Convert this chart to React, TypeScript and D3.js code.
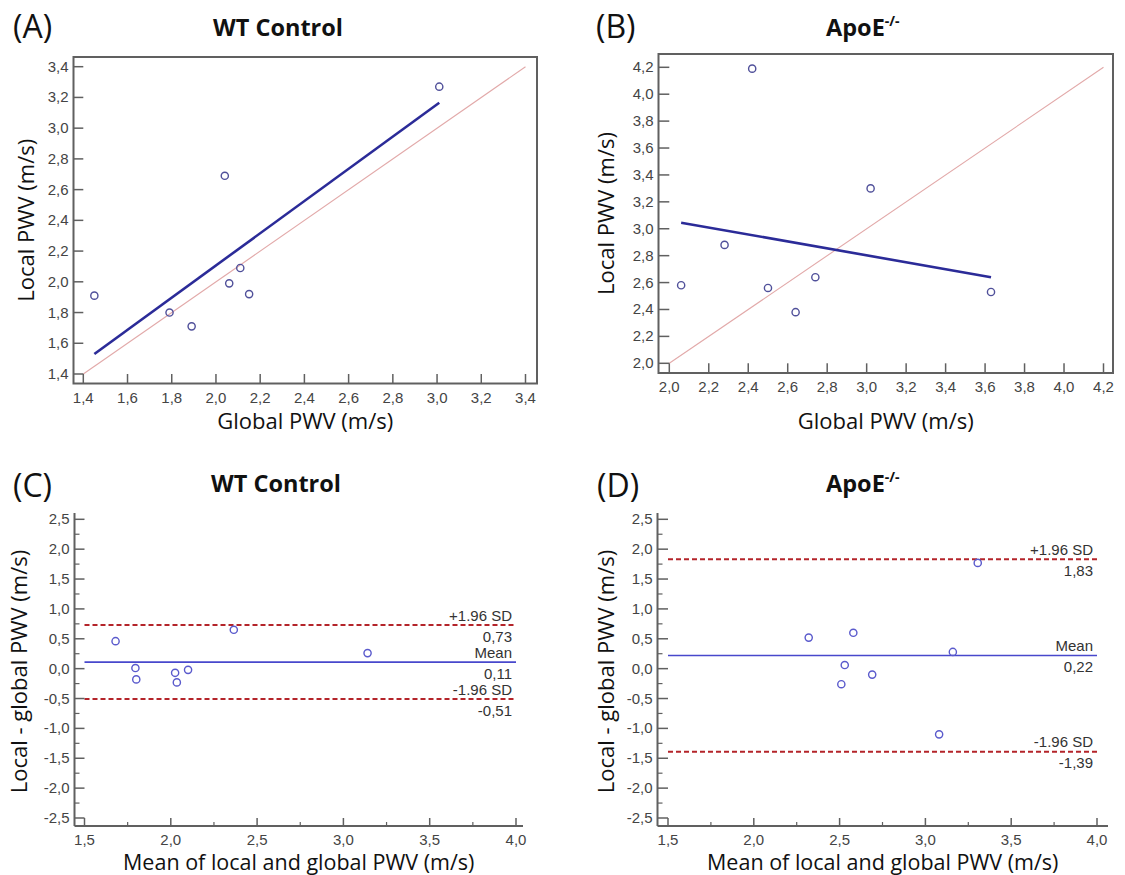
import React from "react";
import * as d3 from "d3";

// ---------- data ----------
const wtGlobal = [1.45, 1.79, 1.89, 2.04, 2.06, 2.11, 2.15, 3.01];
const wtLocal = [1.91, 1.8, 1.71, 2.69, 1.99, 2.09, 1.92, 3.27];
const apoGlobal = [2.06, 2.28, 2.42, 2.5, 2.64, 2.74, 3.02, 3.63];
const apoLocal = [2.58, 2.88, 4.19, 2.56, 2.38, 2.64, 3.3, 2.53];

const wtFitX = [1.45, 3.01];
const wtFitY = [1.53, 3.165];
const apoFitX = [2.06, 3.63];
const apoFitY = [3.045, 2.64];

const wtTicks = [1.4, 1.6, 1.8, 2.0, 2.2, 2.4, 2.6, 2.8, 3.0, 3.2, 3.4];
const apoTicks = [2.0, 2.2, 2.4, 2.6, 2.8, 3.0, 3.2, 3.4, 3.6, 3.8, 4.0, 4.2];
const baXTicks = [1.5, 2.0, 2.5, 3.0, 3.5, 4.0];
const baYTicks = [-2.5, -2.0, -1.5, -1.0, -0.5, 0.0, 0.5, 1.0, 1.5, 2.0, 2.5];

// agreement: [upper, mean, lower]
const wtAgreement = [0.73, 0.11, -0.51];
const apoAgreement = [1.83, 0.22, -1.39];
const agreementNames = ["+1.96 SD", "Mean", "-1.96 SD"];

const fmt = (v: number, d = 1) => d3.format(`.${d}f`)(v).replace(".", ",").replace("−", "-");

const TICK_FONT = "'Liberation Sans', Arial, sans-serif";
const TITLE_FONT = "'Open Sans', sans-serif";
const AXIS_COLOR = "#606060";
const TICK_TEXT = "#444";
const TICK_SIZE = 15;

type Frame = { l: number; t: number; r: number; b: number };

function PanelLetter({ x, y, text }: { x: number; y: number; text: string }) {
  return (
    <text x={x} y={y} fontFamily={TITLE_FONT} fontSize={32} fill="#111">
      {text}
    </text>
  );
}

function ScatterPanel(props: {
  letter: string;
  letterX: number;
  title: React.ReactNode;
  titleX: number;
  titleAnchor: string;
  global: number[];
  local: number[];
  fitX: number[];
  fitY: number[];
  ticks: number[];
  frame: Frame;
  xRange: [number, number];
  yRange: [number, number];
  yTitleX: number;
}) {
  const { frame, ticks } = props;
  const dom: [number, number] = [ticks[0], ticks[ticks.length - 1]];
  const xs = d3.scaleLinear().domain(dom).range(props.xRange);
  const ys = d3.scaleLinear().domain(dom).range(props.yRange);
  const tickLenX = frame.b - ys(dom[0]);
  const tickLenY = xs(dom[0]) - frame.l;
  const fitLine = d3.line<number>()
    .x((_, i) => xs(props.fitX[i]))
    .y((_, i) => ys(props.fitY[i]));
  const cx = (frame.l + frame.r) / 2;
  const cy = (frame.t + frame.b) / 2;
  return (
    <g>
      <PanelLetter x={props.letterX} y={38} text={props.letter} />
      <text x={props.titleX} y={36} fontFamily={TITLE_FONT} fontWeight={700} fontSize={23.5} fill="#111" textAnchor={props.titleAnchor}>
        {props.title}
      </text>
      <line x1={xs(dom[0])} y1={ys(dom[0])} x2={xs(dom[1])} y2={ys(dom[1])} stroke="#e2a9a9" strokeWidth={1.1} />
      <path d={fitLine(props.fitX) || ""} stroke="#2b2b98" strokeWidth={2.6} fill="none" />
      {props.global.map((g, i) => (
        <circle key={i} cx={xs(g)} cy={ys(props.local[i])} r={3.6} fill="none" stroke="#50509a" strokeWidth={1.4} />
      ))}
      <rect x={frame.l} y={frame.t} width={frame.r - frame.l} height={frame.b - frame.t} fill="none" stroke={AXIS_COLOR} strokeWidth={2} />
      {ticks.map((t) => (
        <g key={"x" + t}>
          <line x1={xs(t)} x2={xs(t)} y1={frame.b} y2={frame.b - tickLenX} stroke={AXIS_COLOR} strokeWidth={1.5} />
          <text x={xs(t)} y={frame.b + 19} textAnchor="middle" fontFamily={TICK_FONT} fontSize={TICK_SIZE} fill={TICK_TEXT}>
            {fmt(t)}
          </text>
          <line x1={frame.l} x2={frame.l + tickLenY} y1={ys(t)} y2={ys(t)} stroke={AXIS_COLOR} strokeWidth={1.5} />
          <text x={frame.l - 5} y={ys(t) + 5} textAnchor="end" fontFamily={TICK_FONT} fontSize={TICK_SIZE} fill={TICK_TEXT}>
            {fmt(t)}
          </text>
        </g>
      ))}
      <text x={cx} y={429} textAnchor="middle" fontFamily={TITLE_FONT} fontSize={22} fill="#111">
        Global PWV (m/s)
      </text>
      <text transform={`translate(${props.yTitleX},${cy}) rotate(-90)`} textAnchor="middle" fontFamily={TITLE_FONT} fontSize={22} fill="#111">
        Local PWV (m/s)
      </text>
    </g>
  );
}

function BlandAltmanPanel(props: {
  letter: string;
  letterX: number;
  title: React.ReactNode;
  titleX: number;
  global: number[];
  local: number[];
  agreement: number[];
  axisX: number;
  axisY: number;
  axisTop: number;
  axisRight: number;
  xRange: [number, number];
  yRange: [number, number];
  yTitleX: number;
}) {
  const xs = d3.scaleLinear().domain([baXTicks[0], baXTicks[baXTicks.length - 1]]).range(props.xRange);
  const ys = d3.scaleLinear().domain([baYTicks[0], baYTicks[baYTicks.length - 1]]).range(props.yRange);
  const means = props.global.map((g, i) => (g + props.local[i]) / 2);
  const diffs = props.global.map((g, i) => props.local[i] - g);
  const majY = xs(baXTicks[0]) - props.axisX;
  const majX = props.axisY - ys(baYTicks[0]);
  const x0 = xs(baXTicks[0]);
  const x1 = xs(baXTicks[baXTicks.length - 1]);
  const labelX = x1 - 4;
  const minorX = baXTicks.slice(0, -1).map((v) => v + 0.25);
  const minorY = baYTicks.slice(0, -1).map((v) => v + 0.25);
  return (
    <g>
      <PanelLetter x={props.letterX} y={497} text={props.letter} />
      <text x={props.titleX} y={492} fontFamily={TITLE_FONT} fontWeight={700} fontSize={23.5} fill="#111">
        {props.title}
      </text>
      {props.agreement.map((v, i) => (
        <g key={i}>
          <line x1={x0} x2={x1} y1={ys(v)} y2={ys(v)}
            stroke={i === 1 ? "#4848cc" : "#b4242a"} strokeWidth={i === 1 ? 1.6 : 2}
            strokeDasharray={i === 1 ? undefined : "5,3"} />
          <text x={labelX} y={ys(v) - 4.5} textAnchor="end" fontFamily={TICK_FONT} fontSize={15} fill="#333">
            {agreementNames[i]}
          </text>
          <text x={labelX} y={ys(v) + 16.5} textAnchor="end" fontFamily={TICK_FONT} fontSize={15} fill="#333">
            {fmt(v, 2)}
          </text>
        </g>
      ))}
      {means.map((m, i) => (
        <circle key={i} cx={xs(m)} cy={ys(diffs[i])} r={3.6} fill="none" stroke="#5a5acc" strokeWidth={1.4} />
      ))}
      <line x1={props.axisX} x2={props.axisX} y1={props.axisTop} y2={props.axisY} stroke={AXIS_COLOR} strokeWidth={2} />
      <line x1={props.axisX} x2={props.axisRight} y1={props.axisY} y2={props.axisY} stroke={AXIS_COLOR} strokeWidth={2} />
      {baYTicks.map((t) => (
        <g key={"y" + t}>
          <line x1={props.axisX} x2={props.axisX + majY} y1={ys(t)} y2={ys(t)} stroke={AXIS_COLOR} strokeWidth={1.5} />
          <text x={props.axisX - 5} y={ys(t) + 5} textAnchor="end" fontFamily={TICK_FONT} fontSize={TICK_SIZE} fill={TICK_TEXT}>
            {fmt(t)}
          </text>
        </g>
      ))}
      {minorY.map((t) => (
        <line key={"my" + t} x1={props.axisX} x2={props.axisX + 5} y1={ys(t)} y2={ys(t)} stroke={AXIS_COLOR} strokeWidth={1.2} />
      ))}
      {baXTicks.map((t) => (
        <g key={"x" + t}>
          <line x1={xs(t)} x2={xs(t)} y1={props.axisY} y2={props.axisY - majX} stroke={AXIS_COLOR} strokeWidth={1.5} />
          <text x={xs(t)} y={props.axisY + 19} textAnchor="middle" fontFamily={TICK_FONT} fontSize={TICK_SIZE} fill={TICK_TEXT}>
            {fmt(t)}
          </text>
        </g>
      ))}
      {minorX.map((t) => (
        <line key={"mx" + t} x1={xs(t)} x2={xs(t)} y1={props.axisY} y2={props.axisY - 4} stroke={AXIS_COLOR} strokeWidth={1.2} />
      ))}
      <text x={(props.axisX + props.axisRight) / 2} y={870} textAnchor="middle" fontFamily={TITLE_FONT} fontSize={21.5} fill="#111">
        Mean of local and global PWV (m/s)
      </text>
      <text transform={`translate(${props.yTitleX},${(props.axisTop + props.axisY) / 2 + 2}) rotate(-90)`} textAnchor="middle" fontFamily={TITLE_FONT} fontSize={22} fill="#111">
        Local - global PWV (m/s)
      </text>
    </g>
  );
}

const apoTitle = (
  <>
    <tspan>ApoE</tspan>
    <tspan dy={-10} fontSize={14}>-/-</tspan>
  </>
);

export default function App() {
  return (
    <div style={{ position: "absolute", left: 0, top: 0, width: 1125, height: 875, background: "#fff" }}>
      <svg width={1125} height={875} viewBox="0 0 1125 875">
        <rect width={1125} height={875} fill="#fff" />
        <ScatterPanel
          letter="(A)" letterX={13} title="WT Control" titleX={278} titleAnchor="middle"
          global={wtGlobal} local={wtLocal} fitX={wtFitX} fitY={wtFitY} ticks={wtTicks}
          frame={{ l: 73.5, t: 57, r: 537, b: 383.5 }} xRange={[83.3, 525.5]} yRange={[374, 66.7]}
          yTitleX={34}
        />
        <ScatterPanel
          letter="(B)" letterX={596} title={apoTitle} titleX={826} titleAnchor="start"
          global={apoGlobal} local={apoLocal} fitX={apoFitX} fitY={apoFitY} ticks={apoTicks}
          frame={{ l: 658.5, t: 54, r: 1113, b: 373 }} xRange={[669.3, 1103.5]} yRange={[363.3, 67.3]}
          yTitleX={614}
        />
        <BlandAltmanPanel
          letter="(C)" letterX={13} title="WT Control" titleX={211}
          global={wtGlobal} local={wtLocal} agreement={wtAgreement}
          axisX={74.5} axisY={826} axisTop={513} axisRight={523}
          xRange={[84.5, 516]} yRange={[818, 519.3]} yTitleX={27}
        />
        <BlandAltmanPanel
          letter="(D)" letterX={597} title={apoTitle} titleX={826}
          global={apoGlobal} local={apoLocal} agreement={apoAgreement}
          axisX={657.5} axisY={826} axisTop={513} axisRight={1108}
          xRange={[668, 1097]} yRange={[818, 519.3]} yTitleX={614}
        />
      </svg>
    </div>
  );
}
